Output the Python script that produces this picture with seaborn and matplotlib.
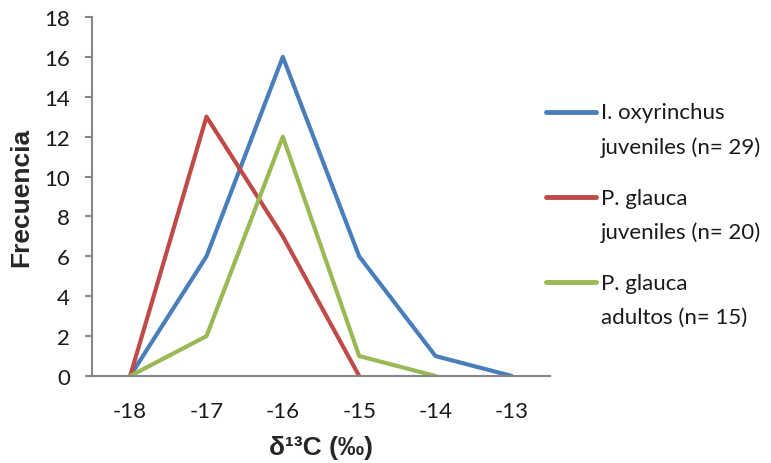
import matplotlib
matplotlib.use("Agg")
import matplotlib.pyplot as plt
import seaborn as sns
import pandas as pd
from matplotlib.legend_handler import HandlerLine2D

x_vals = [-18, -17, -16, -15, -14, -13]
blue_x = [-18, -17, -16, -15, -14, -13]
blue_y = [0, 6, 16, 6, 1, 0]
red_x = [-18, -17, -16, -15]
red_y = [0, 13, 7, 0]
green_x = [-18, -17, -16, -15, -14]
green_y = [0, 2, 12, 1, 0]
labels = ["I. oxyrinchus\njuveniles (n= 29)",
          "P. glauca\njuveniles (n= 20)",
          "P. glauca\nadultos (n= 15)"]
colors = ["#4a7ebb", "#be4b48", "#98b954"]
y_ticks = [0, 2, 4, 6, 8, 10, 12, 14, 16, 18]

rows = []
for lab, xs, ys in zip(labels, [blue_x, red_x, green_x], [blue_y, red_y, green_y]):
    for a, b in zip(xs, ys):
        rows.append({"x": a, "y": b, "serie": lab})
df = pd.DataFrame(rows)

sns.set_style("white")
plt.rcParams['font.family'] = ['Lato', 'DejaVu Sans']

fig = plt.figure(figsize=(7.71, 4.64), dpi=100)
ax = fig.add_axes([92/771, 1 - 377/464, (550-92)/771, (377-18)/464])
sns.lineplot(data=df, x="x", y="y", hue="serie", palette=colors, linewidth=3,
             ax=ax, sort=False)

ax.set_xlim(-18.5, -12.5)
ax.set_ylim(0, 18)
ax.set_xticks(x_vals)
ax.set_xticklabels([str(v) for v in x_vals])
ax.set_yticks(y_ticks)
for s in ["top", "right"]:
    ax.spines[s].set_visible(False)
for s in ["left", "bottom"]:
    ax.spines[s].set_color("#868686")
    ax.spines[s].set_linewidth(1.5)
ax.tick_params(axis="y", length=5, width=1.5, color="#868686", labelsize=16,
               pad=11, direction="out", left=True, labelcolor="#1a1a1a")
ax.tick_params(axis="x", length=0, labelsize=16, pad=18, labelcolor="#1a1a1a")
ax.set_ylabel("Frecuencia", fontsize=19, fontweight="bold",
              family=["Liberation Sans"])
ax.yaxis.set_label_coords(-59/458, 0.5)
ax.set_xlabel("δ¹³C (‰)", fontsize=19, fontweight="bold",
              family=["Liberation Sans"])
ax.xaxis.set_label_coords(0.5, -59/359)


class UpHandler(HandlerLine2D):
    def create_artists(self, legend, orig_handle, xdescent, ydescent,
                       width, height, fontsize, trans):
        arts = super().create_artists(legend, orig_handle, xdescent, ydescent,
                                      width, height, fontsize, trans)
        for a in arts:
            yd = a.get_ydata()
            a.set_ydata([v + 13 for v in yd])
        return arts


handles, labs = ax.get_legend_handles_labels()
leg = ax.legend(handles, labs, loc="upper left", bbox_to_anchor=(0.972, 0.787),
                frameon=False, fontsize=16, handlelength=2.25, borderpad=0.4,
                borderaxespad=0, handletextpad=0.22, labelspacing=1.4,
                handler_map={h: UpHandler() for h in handles})
for t in leg.get_texts():
    t.set_linespacing(1.83)
    t.set_color("#1a1a1a")
for h in leg.get_lines():
    h.set_linewidth(3.5)
    h.set_solid_capstyle("round")

fig.savefig("out.png", dpi=100)
